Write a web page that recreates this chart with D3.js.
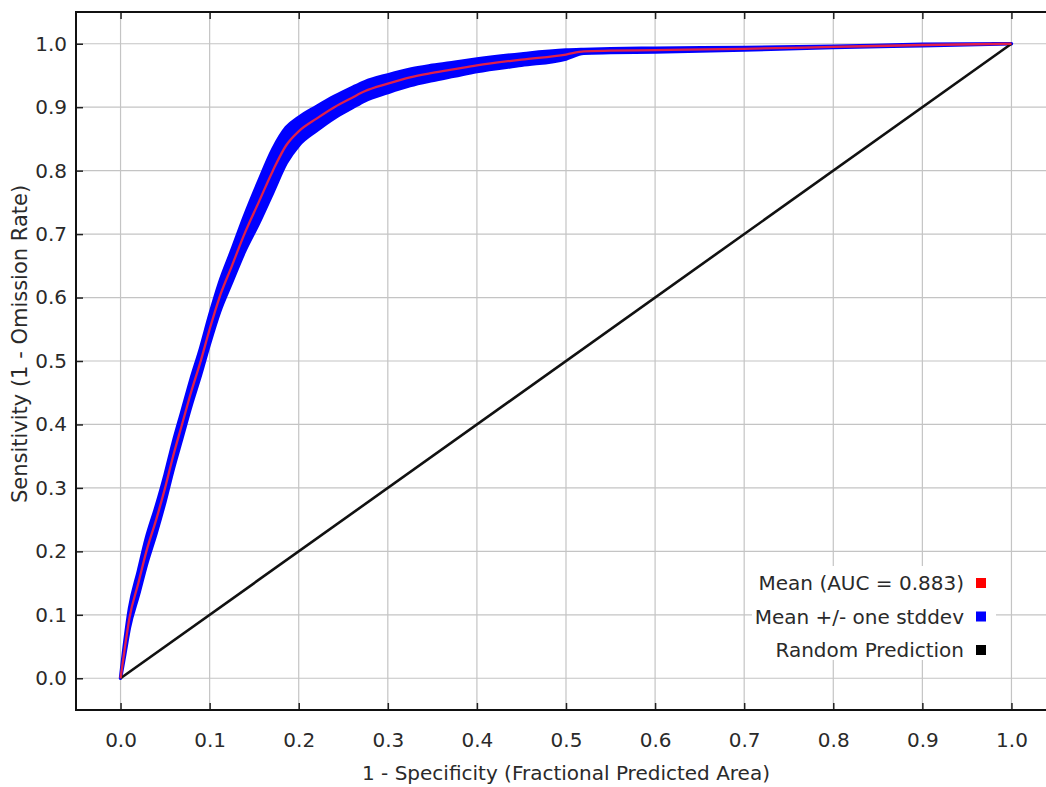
<!DOCTYPE html>
<html lang="en">
  <head>
    <meta charset="utf-8" />
    <title>ROC</title>
    <script src="https://d3js.org/d3.v7.min.js"></script>
    <style>
      body { margin: 0; background: #fff; }
      text { font-family: "DejaVu Sans", sans-serif; fill: #2a2a2a; }
    </style>
  </head>
  <body>
    <div id="container"></div>

    <script>
      var width = 1046;
      var height = 787;

      // data
      var rocX = [0, 0.005, 0.01, 0.02, 0.029, 0.04, 0.05, 0.059, 0.069, 0.079, 0.09, 0.1, 0.111, 0.125, 0.139, 0.155, 0.171, 0.186, 0.2, 0.22, 0.24, 0.26, 0.274, 0.3, 0.325, 0.35, 0.375, 0.4, 0.45, 0.5, 0.52, 0.55, 0.6, 0.7, 0.8, 0.9, 1.0];
      var rocMean = [0, 0.05, 0.095, 0.15, 0.2, 0.25, 0.3, 0.35, 0.4, 0.45, 0.5, 0.55, 0.6, 0.65, 0.7, 0.75, 0.8, 0.84, 0.862, 0.882, 0.9, 0.915, 0.925, 0.937, 0.947, 0.954, 0.96, 0.966, 0.975, 0.983, 0.988, 0.989, 0.99, 0.992, 0.995, 0.998, 1.0];
      var rocSd = [0, 0.01, 0.015, 0.019, 0.021, 0.021, 0.021, 0.021, 0.021, 0.021, 0.021, 0.022, 0.023, 0.025, 0.028, 0.033, 0.034, 0.028, 0.022, 0.019, 0.017, 0.016, 0.015, 0.014, 0.013, 0.012, 0.011, 0.01, 0.009, 0.007, 0.003, 0.003, 0.003, 0.002, 0.001, 0.001, 0];
      var randomX = [0, 1];
      var randomY = [0, 1];
      var tickValues = [0, 0.1, 0.2, 0.3, 0.4, 0.5, 0.6, 0.7, 0.8, 0.9, 1.0];
      var legendLabels = ["Mean (AUC = 0.883)", "Mean +/- one stddev", "Random Prediction"];
      var legendColors = ["#ff0000", "#0000ff", "#000000"];
      var xTitle = "1 - Specificity (Fractional Predicted Area)";
      var yTitle = "Sensitivity (1 - Omission Rate)";

      var plotLeft = 76, plotRight = 1056, plotTop = 12, plotBottom = 710;

      var svg = d3
        .select("#container")
        .append("svg")
        .attr("width", width)
        .attr("height", height);

      var x = d3.scaleLinear().domain([-0.05, 1.05]).range([plotLeft, plotRight]);
      var y = d3.scaleLinear().domain([-0.05, 1.05]).range([plotBottom, plotTop]);

      // grid
      var grid = svg.append("g").attr("class", "grid");
      grid.selectAll("line.gx")
        .data(tickValues)
        .enter()
        .append("line")
        .attr("x1", function (d) { return x(d); })
        .attr("x2", function (d) { return x(d); })
        .attr("y1", plotTop)
        .attr("y2", plotBottom)
        .style("stroke", "#c4c4c4")
        .style("stroke-width", 1.2);
      grid.selectAll("line.gy")
        .data(tickValues)
        .enter()
        .append("line")
        .attr("y1", function (d) { return y(d); })
        .attr("y2", function (d) { return y(d); })
        .attr("x1", plotLeft)
        .attr("x2", plotRight)
        .style("stroke", "#c4c4c4")
        .style("stroke-width", 1.2);

      var pts = rocX.map(function (d, i) {
        return { x: d, m: rocMean[i], sd: rocSd[i] };
      });

      // stddev band
      var band = d3.area()
        .curve(d3.curveMonotoneX)
        .x(function (d) { return x(d.x); })
        .y0(function (d) { return y(Math.max(0, d.m - d.sd)); })
        .y1(function (d) { return y(Math.min(1, d.m + d.sd)); });

      svg.append("path")
        .datum(pts)
        .attr("d", band)
        .style("fill", "#0000ff")
        .style("stroke", "#0000ff")
        .style("stroke-width", 3.5)
        .style("stroke-linejoin", "round");

      // random prediction
      svg.append("path")
        .datum(randomX.map(function (d, i) { return [d, randomY[i]]; }))
        .attr("d", d3.line()
          .x(function (d) { return x(d[0]); })
          .y(function (d) { return y(d[1]); }))
        .style("fill", "none")
        .style("stroke", "#111")
        .style("stroke-width", 2.6);

      // mean line
      svg.append("path")
        .datum(pts)
        .attr("d", d3.line()
          .curve(d3.curveMonotoneX)
          .x(function (d) { return x(d.x); })
          .y(function (d) { return y(d.m); }))
        .style("fill", "none")
        .style("stroke", "#e0204a")
        .style("stroke-width", 2.3);

      // axes, ticks pointing inward
      var fmt = d3.format(".1f");
      svg.append("g")
        .attr("transform", "translate(0," + plotBottom + ")")
        .call(d3.axisBottom(x).tickValues(tickValues).tickFormat(fmt).tickSize(-7).tickPadding(23))
        .call(function (g) { g.select(".domain").remove(); });
      svg.append("g")
        .attr("transform", "translate(" + plotLeft + ",0)")
        .call(d3.axisLeft(y).tickValues(tickValues).tickFormat(fmt).tickSize(-7).tickPadding(9))
        .call(function (g) { g.select(".domain").remove(); });
      svg.append("g")
        .attr("transform", "translate(0," + plotTop + ")")
        .call(d3.axisTop(x).tickValues(tickValues).tickFormat("").tickSize(-7))
        .call(function (g) { g.select(".domain").remove(); });

      svg.selectAll(".tick line").style("stroke", "#222").style("stroke-width", 1.5);
      svg.selectAll(".tick text").style("font-size", "20px").style("font-family", "DejaVu Sans").attr("fill", "#2a2a2a");

      // frame
      svg.append("rect")
        .attr("x", plotLeft)
        .attr("y", plotTop)
        .attr("width", plotRight - plotLeft)
        .attr("height", plotBottom - plotTop)
        .style("fill", "none")
        .style("stroke", "#111")
        .style("stroke-width", 2);

      // titles
      svg.append("text")
        .attr("x", (plotLeft + plotRight) / 2)
        .attr("y", 780)
        .attr("text-anchor", "middle")
        .style("font-size", "20px")
        .text(xTitle);

      svg.append("text")
        .attr("transform", "translate(27,344) rotate(-90)")
        .attr("text-anchor", "middle")
        .style("font-size", "21px")
        .text(yTitle);

      // legend
      var legend = svg.append("g").attr("class", "legend");
      legend.append("rect")
        .attr("x", 752)
        .attr("y", 566)
        .attr("width", 244)
        .attr("height", 94)
        .style("fill", "#fff");

      var rowY = d3.scalePoint().domain(legendLabels).range([583, 650]);

      legend.selectAll("text")
        .data(legendLabels)
        .enter()
        .append("text")
        .attr("x", 964)
        .attr("y", function (d) { return rowY(d); })
        .attr("dy", "0.35em")
        .attr("text-anchor", "end")
        .style("font-size", "20px")
        .text(function (d) { return d; });

      legend.selectAll("rect.key")
        .data(legendLabels)
        .enter()
        .append("rect")
        .attr("class", "key")
        .attr("x", 976)
        .attr("y", function (d) { return rowY(d) - 5; })
        .attr("width", 10)
        .attr("height", 10)
        .style("fill", function (d, i) { return legendColors[i]; });
    </script>
  </body>
</html>
